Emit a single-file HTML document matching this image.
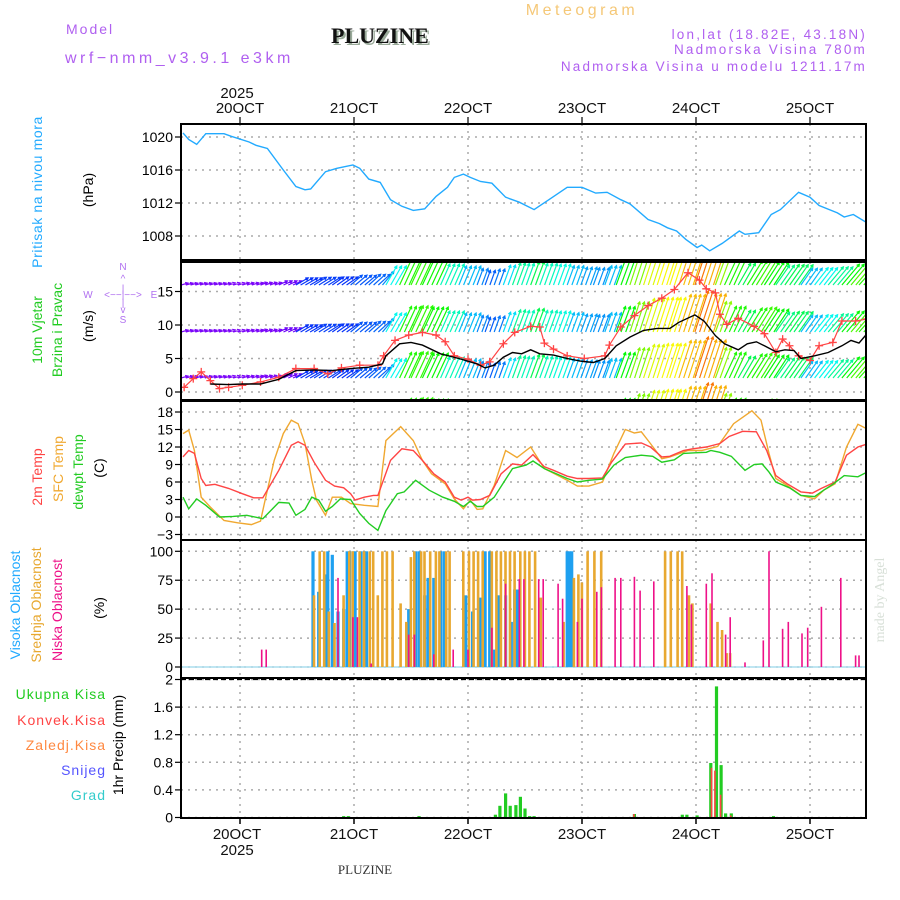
<!DOCTYPE html>
<html><head><meta charset="utf-8"><style>
html,body{margin:0;padding:0;background:#fff;}
svg{display:block;font-family:"Liberation Sans",sans-serif;}
</style></head><body>
<svg id="chart" width="900" height="900" viewBox="0 0 900 900" xmlns="http://www.w3.org/2000/svg">
<defs>
<clipPath id="c1"><rect x="181" y="124" width="685" height="136"/></clipPath>
<clipPath id="c2"><rect x="181" y="262" width="685" height="138"/></clipPath>
<clipPath id="c3"><rect x="181" y="401" width="685" height="139"/></clipPath>
<clipPath id="c4"><rect x="181" y="540" width="685" height="138"/></clipPath>
<clipPath id="c5"><rect x="181" y="678" width="685" height="140"/></clipPath>
</defs>
<g>
<text x="66" y="34" font-size="14" fill="#b060f0" letter-spacing="2">Model</text>
<text x="65" y="63" font-size="16" fill="#b060f0" letter-spacing="3.5">wrf−nmm_v3.9.1 e3km</text>
<text x="331" y="43" font-size="22" font-weight="bold" font-family="Liberation Serif,serif" fill="#9a9" transform="translate(2,2)">PLUZINE</text>
<text x="331" y="43" font-size="22" font-weight="bold" font-family="Liberation Serif,serif" fill="#111">PLUZINE</text>
<text x="582" y="15" font-size="16" fill="#f5c878" text-anchor="middle" letter-spacing="3.5">Meteogram</text>
<text x="867" y="39" font-size="13.5" fill="#b060f0" text-anchor="end" letter-spacing="2.2">lon,lat (18.82E, 43.18N)</text>
<text x="867" y="54" font-size="13.5" fill="#b060f0" text-anchor="end" letter-spacing="2.2">Nadmorska Visina 780m</text>
<text x="867" y="71" font-size="13.5" fill="#b060f0" text-anchor="end" letter-spacing="2.2">Nadmorska Visina u modelu 1211.17m</text>
<text x="237" y="98" font-size="15" fill="#111" text-anchor="middle">2025</text>
<text x="237" y="839" font-size="15" fill="#111" text-anchor="middle">20OCT</text>
<text x="237" y="855" font-size="15" fill="#111" text-anchor="middle">2025</text>
<text x="365" y="874" font-size="13" fill="#333" text-anchor="middle" font-family="Liberation Serif,serif">PLUZINE</text>
<text transform="translate(884,600) rotate(-90)" font-size="14" fill="#d8e0d8" text-anchor="middle" font-family="Liberation Serif,serif">made by Angel</text>
</g>
<g font-size="14">
<text transform="translate(42,192) rotate(-90)" text-anchor="middle" fill="#22aaff" letter-spacing="0.6">Pritisak na nivou mora</text>
<text transform="translate(93,190) rotate(-90)" text-anchor="middle" fill="#000">(hPa)</text>
<text transform="translate(42,330) rotate(-90)" text-anchor="middle" fill="#22cc22">10m Vjetar</text>
<text transform="translate(62,330) rotate(-90)" text-anchor="middle" fill="#22cc22">Brzina i Pravac</text>
<text transform="translate(93,326) rotate(-90)" text-anchor="middle" fill="#000">(m/s)</text>
<g fill="#b070f0" font-size="10" text-anchor="middle">
<text x="123" y="270">N</text><text x="123" y="282">^</text><text x="123" y="292">|</text>
<text x="88" y="298">W</text><text x="123" y="298">&lt;−−|−−&gt;</text><text x="154" y="298">E</text>
<text x="123" y="306">|</text><text x="123" y="313">v</text><text x="123" y="323">S</text>
</g>
<text transform="translate(42,477) rotate(-90)" text-anchor="middle" fill="#ff4444">2m Temp</text>
<text transform="translate(63,469) rotate(-90)" text-anchor="middle" fill="#f0a830">SFC Temp</text>
<text transform="translate(83,472) rotate(-90)" text-anchor="middle" fill="#22cc22">dewpt Temp</text>
<text transform="translate(104,468) rotate(-90)" text-anchor="middle" fill="#000">(C)</text>
<text transform="translate(20,605) rotate(-90)" text-anchor="middle" fill="#22aaff">Visoka Oblacnost</text>
<text transform="translate(41,605) rotate(-90)" text-anchor="middle" fill="#e8a830">Srednja Oblacnost</text>
<text transform="translate(62,610) rotate(-90)" text-anchor="middle" fill="#ee1188">Niska Oblacnost</text>
<text transform="translate(104,608) rotate(-90)" text-anchor="middle" fill="#000">(%)</text>
<g text-anchor="end" letter-spacing="1">
<text x="106" y="699" fill="#22cc22">Ukupna  Kisa</text>
<text x="106" y="725" fill="#ff4444">Konvek.Kisa</text>
<text x="106" y="750" fill="#ff8840">Zaledj.Kisa</text>
<text x="106" y="775" fill="#5555ff">Snijeg</text>
<text x="106" y="800" fill="#33cccc">Grad</text>
</g>
<text transform="translate(123,745) rotate(-90)" text-anchor="middle" fill="#000">1hr Precip (mm)</text>
</g>
<g id="plots"></g>
</svg>
<script>
// ---- data (days since 20 Oct 00:00) ----
const dayLabels=["20OCT","21OCT","22OCT","23OCT","24OCT","25OCT"];
const pTicks=[1020,1016,1012,1008];
const wTicks=[15,10,5,0];
const tTicks=[18,15,12,9,6,3,0,-3];
const cTicks=[100,75,50,25,0];
const rTicks=[2,1.6,1.2,0.8,0.4,0];

const pTimes=[-0.5,-0.45,-0.38,-0.3,-0.14,-0.08,0.08,0.14,0.24,0.38,0.49,0.57,0.62,0.75,0.85,0.99,1.05,1.13,1.23,1.32,1.42,1.52,1.62,1.72,1.82,1.88,1.96,2.02,2.11,2.21,2.33,2.45,2.58,2.71,2.87,3.0,3.12,3.22,3.34,3.42,3.58,3.68,3.75,3.83,3.91,4.01,4.05,4.12,4.23,4.38,4.43,4.55,4.66,4.74,4.9,5.0,5.08,5.24,5.3,5.38,5.5];
const pressure=[1020.5,1019.7,1019.1,1020.4,1020.4,1020.1,1019.4,1019.0,1018.6,1016.0,1014.0,1013.6,1013.7,1015.8,1016.2,1016.6,1016.2,1014.9,1014.5,1012.4,1011.6,1011.1,1011.3,1012.8,1013.9,1015.1,1015.5,1015.1,1014.6,1014.4,1012.7,1012.1,1011.2,1012.4,1013.9,1013.9,1013.2,1013.3,1012.4,1011.9,1010.0,1009.5,1009.0,1008.6,1007.6,1006.6,1006.9,1006.2,1007.1,1008.6,1008.2,1008.4,1010.6,1011.2,1013.3,1012.7,1011.7,1010.8,1010.3,1010.6,1009.6];

const wTimes=[-0.26,-0.1,0.02,0.18,0.34,0.49,0.65,0.81,0.97,1.13,1.25,1.28,1.4,1.5,1.6,1.76,1.92,2.08,2.15,2.23,2.31,2.39,2.47,2.55,2.63,2.75,2.87,2.99,3.1,3.2,3.3,3.42,3.54,3.66,3.77,3.85,3.99,4.07,4.17,4.25,4.37,4.45,4.53,4.6,4.7,4.78,4.86,4.92,5.04,5.16,5.28,5.36,5.43,5.5];
const windSpeed=[1.2,1.1,1.2,1.2,1.9,3.2,3.3,3.2,3.5,3.7,4.2,5.4,7.2,7.4,7.0,5.7,5.0,4.2,3.6,4.0,5.2,5.9,5.7,6.3,5.7,5.5,5.0,4.6,4.4,5.0,6.9,8.2,9.2,9.5,9.5,10.4,11.5,10.6,8.4,7.2,6.3,7.2,7.5,6.9,6.0,6.3,6.2,5.0,5.4,5.9,6.9,7.7,7.3,8.7];
const windDir=[75,72,72,70,65,60,58,55,50,48,40,30,25,25,25,24,22,20,20,20,20,20,20,20,20,20,20,20,20,20,20,18,18,18,18,18,18,18,20,25,30,32,32,33,35,35,35,35,38,40,40,40,42,45];
const gustTimes=[-0.49,-0.41,-0.34,-0.26,-0.18,-0.1,0.02,0.18,0.34,0.49,0.65,0.77,0.89,1.05,1.21,1.26,1.36,1.48,1.6,1.72,1.8,1.88,2.0,2.11,2.19,2.31,2.41,2.55,2.63,2.67,2.75,2.87,3.02,3.2,3.24,3.34,3.46,3.58,3.7,3.81,3.93,4.03,4.09,4.17,4.21,4.27,4.37,4.51,4.6,4.7,4.76,4.82,4.9,5.0,5.08,5.2,5.28,5.4,5.5];
const gust=[0.7,2.0,3.0,1.7,0.5,0.7,1.0,1.5,2.2,3.5,3.5,2.7,3.6,4.0,4.0,5.4,7.7,8.5,8.9,8.5,7.5,5.4,4.9,4.0,4.5,7.2,8.9,9.8,9.7,7.3,6.4,5.4,5.0,5.4,7.0,9.7,11.4,12.9,14.0,15.3,17.8,16.7,15.4,14.8,11.6,10.1,11.0,9.8,8.7,5.9,7.9,6.9,5.4,4.7,6.9,7.4,10.6,10.6,10.9];

const tTimes=[-0.5,-0.45,-0.4,-0.34,-0.3,-0.22,-0.1,0.02,0.12,0.2,0.34,0.45,0.51,0.57,0.65,0.75,0.83,0.91,0.97,1.01,1.09,1.17,1.21,1.32,1.42,1.52,1.6,1.7,1.8,1.88,1.94,2.0,2.04,2.11,2.19,2.29,2.39,2.47,2.57,2.67,2.75,2.87,2.96,3.06,3.18,3.26,3.38,3.52,3.6,3.7,3.77,3.89,3.97,4.09,4.21,4.29,4.41,4.53,4.62,4.7,4.8,4.92,5.02,5.1,5.22,5.32,5.42,5.5];
const temp2m=[10.3,11.4,10.9,6.6,5.4,5.6,4.9,4.0,3.3,3.3,8.0,12.3,12.9,12.3,9.4,6.3,5.3,5.0,4.0,2.9,3.4,3.7,3.7,9.7,11.7,11.4,9.7,7.4,6.0,3.4,2.9,3.4,2.9,3.0,3.7,7.4,9.1,8.9,10.7,8.6,8.0,7.0,6.6,6.6,6.7,9.4,12.5,12.7,12.0,10.3,10.4,11.4,11.7,12.0,12.6,13.8,14.7,14.6,11.4,7.1,5.7,4.3,4.1,4.9,6.0,10.6,12.0,12.5];
const sfcTimes=[-0.5,-0.45,-0.4,-0.34,-0.26,-0.14,-0.02,0.1,0.18,0.22,0.3,0.38,0.45,0.51,0.57,0.63,0.67,0.75,0.81,0.89,0.97,1.09,1.21,1.28,1.41,1.52,1.6,1.68,1.8,1.88,1.96,2.02,2.08,2.13,2.23,2.33,2.43,2.55,2.67,2.87,2.96,3.06,3.18,3.28,3.38,3.46,3.52,3.6,3.7,3.77,3.93,4.05,4.19,4.33,4.49,4.57,4.64,4.7,4.8,4.92,5.04,5.12,5.22,5.32,5.42,5.5];
const sfcTemp=[14.3,14.9,11.4,3.4,1.7,-0.6,-1.0,-1.3,-0.7,2.9,9.7,14.3,16.6,16.0,12.6,6.3,2.9,0.3,3.4,3.4,2.3,2.0,1.8,13.1,15.5,13.1,9.7,7.4,5.7,3.1,1.4,2.9,1.3,1.4,5.4,11.4,10.2,12.0,8.3,6.3,5.3,5.3,6.0,10.9,15.0,14.4,14.6,12.6,10.0,10.3,11.4,11.4,12.1,16.0,18.2,16.6,10.9,6.6,5.4,3.7,3.1,4.6,5.7,12.0,15.9,15.1];
const dewTimes=[-0.5,-0.45,-0.38,-0.3,-0.18,-0.06,0.06,0.2,0.34,0.43,0.49,0.57,0.63,0.69,0.75,0.81,0.88,0.97,1.05,1.13,1.21,1.28,1.38,1.44,1.54,1.66,1.78,1.88,1.96,2.02,2.08,2.13,2.23,2.39,2.51,2.57,2.67,2.87,2.96,3.06,3.18,3.28,3.38,3.52,3.62,3.7,3.81,3.89,3.99,4.09,4.13,4.21,4.31,4.43,4.51,4.58,4.64,4.7,4.82,4.92,5.04,5.12,5.2,5.3,5.42,5.5];
const dewTemp=[3.4,1.4,3.1,2.0,0.0,0.1,0.3,-0.3,2.5,2.4,0.3,1.3,3.4,2.9,1.0,1.8,3.1,3.0,0.6,-1.1,-2.3,1.1,4.0,4.3,6.3,4.6,3.4,2.7,1.8,2.7,1.8,1.8,3.4,8.3,8.9,9.6,8.3,6.6,6.0,6.3,6.5,8.9,10.2,10.6,10.4,9.4,9.8,10.9,11.0,11.1,11.4,11.1,10.4,8.0,9.0,9.1,7.7,6.0,5.0,3.7,3.5,4.6,5.6,7.1,6.9,7.7];

const highTimes=[0.64,0.69,0.75,0.77,0.81,0.86,0.91,0.94,0.96,0.99,1.01,1.06,1.09,1.11,1.15,1.48,1.54,1.57,1.62,1.65,1.70,1.76,1.79,1.98,2.04,2.11,2.15,2.19,2.23,2.25,2.27,2.33,2.38,2.41,2.43,2.87,2.89,2.91];
const highCloud=[100,65,80,100,97,48,50,100,100,100,100,100,100,100,3,50,100,100,62,77,77,100,100,62,48,60,100,100,15,15,62,62,39,67,67,100,100,100];
const midTimes=[0.64,0.69,0.73,0.77,0.82,0.90,0.95,0.98,1.04,1.08,1.13,1.16,1.20,1.24,1.28,1.33,1.40,1.45,1.49,1.52,1.58,1.61,1.66,1.71,1.74,1.80,1.83,1.95,2.00,2.04,2.08,2.12,2.20,2.24,2.28,2.32,2.36,2.40,2.45,2.49,2.53,2.58,2.63,2.83,2.92,2.96,2.99,3.04,3.10,3.16,3.72,3.77,3.83,3.87,3.93,3.96,4.12,4.18,4.22,4.26,4.29];
const midCloud=[62,100,100,48,38,62,100,100,100,100,100,100,62,100,100,100,55,39,95,100,100,100,100,100,100,100,100,100,100,100,100,100,100,100,100,100,100,100,100,100,100,100,60,39,77,80,73,100,100,100,100,100,100,100,62,55,55,39,32,12,12];
const lowTimes=[0.19,0.23,0.86,0.99,1.03,1.15,1.48,1.53,1.70,1.87,2.00,2.21,2.33,2.45,2.49,2.62,2.66,2.79,2.83,2.96,3.00,3.13,3.17,3.29,3.34,3.46,3.51,3.63,3.92,3.96,4.09,4.14,4.26,4.30,4.43,4.59,4.64,4.76,4.81,4.93,4.98,5.10,5.27,5.40,5.43];
const lowCloud=[15,15,77,43,43,3,28,28,11,15,15,34,72,76,76,76,76,72,59,39,59,65,69,77,77,78,66,74,70,54,72,81,28,43,4,23,100,33,39,29,34,52,77,10,10];

const rainTimes=[0.91,0.95,1.57,2.24,2.28,2.33,2.37,2.42,2.46,2.50,2.54,2.58,3.46,3.88,3.92,4.01,4.13,4.18,4.22,4.26,4.31,4.68];
const totalRain=[0.02,0.02,0.02,0.04,0.17,0.35,0.17,0.18,0.30,0.13,0.02,0.02,0.05,0.04,0.04,0.03,0.79,1.90,0.76,0.06,0.06,0.02];
const convTimes=[3.46,4.14,4.17,4.22,4.31];
const convRain=[0.05,0.72,0.68,0.33,0.03];

// ---- scales ----
const X0=181,X1=866;
const xs=d=>240+114*d;
const yP=p=>137+(1020-p)*33/4;
const yW=w=>392-w*6.7;
const yT=t=>517-t*5.833;
const yC=c=>667-c*1.157;
const yR=r=>817.5-r*69;
const NS='http://www.w3.org/2000/svg';
const plots=document.getElementById('plots');
function mk(tag,attrs,parent){const e=document.createElementNS(NS,tag);for(const k in attrs)e.setAttribute(k,attrs[k]);(parent||plots).appendChild(e);return e;}
function grp(clip){const g=mk('g',clip?{'clip-path':'url(#'+clip+')'}:{});return g;}

const panels=[[124,260,'c1'],[262,400,'c2'],[401,540,'c3'],[540,678,'c4'],[678,818,'c5']];
const gridG=grp();


panels.forEach(p=>{dayLabels.forEach((l,i)=>{mk('line',{x1:xs(i),x2:xs(i),y1:p[0],y2:p[1],stroke:'#aaa','stroke-width':1.5,'stroke-dasharray':'2,5'},gridG);});});
function hgrid(ticks,f,fmt,tickName){ticks.forEach(t=>{const y=f(t);
 mk('line',{x1:X0,x2:X1,y1:y,y2:y,stroke:'#aaa','stroke-width':1.5,'stroke-dasharray':'2,5'},gridG);
 mk('line',{x1:X0-6,x2:X0,y1:y,y2:y,stroke:'#000','stroke-width':1.2},gridG);
 const tx=mk('text',{x:X0-8,y:y+5,'font-size':14,'text-anchor':'end',fill:'#000'});
 
 
 tx.textContent=fmt?fmt(t):t;});}
hgrid(pTicks,yP,null,'pressure-tick');
hgrid(wTicks,yW,null,'wind-tick');
hgrid(tTicks,yT,t=>t<0?'−'+(-t):t,'temp-tick');
hgrid(cTicks,yC,null,'cloud-tick');
hgrid(rTicks,yR,null,'precip-tick');
dayLabels.forEach((l,i)=>{
 const t=mk('text',{x:xs(i),y:113,'font-size':15,'text-anchor':'middle',fill:'#111'});
 
 
 t.textContent=l;
 mk('line',{x1:xs(i),x2:xs(i),y1:117,y2:124,stroke:'#000','stroke-width':1.2});
 mk('line',{x1:xs(i),x2:xs(i),y1:818,y2:824,stroke:'#000','stroke-width':1.5});
 if(i>0){const b=mk('text',{x:xs(i),y:839,'font-size':15,'text-anchor':'middle',fill:'#111'});
 
 
 b.textContent=l;}
});
function line(times,vals,f,color,g,w){const d=times.map((t,i)=>(i?'L':'M')+xs(t).toFixed(1)+','+f(vals[i]).toFixed(1)).join('');return mk('path',{d:d,fill:'none',stroke:color,'stroke-width':w||1.3},g);}

// pressure
const g1=grp('c1');
const pl=line(pTimes,pressure,yP,'#22aaff',g1,1.4);



// wind: each reading drawn as a run of hourly-spaced arrows until the next reading
const g2=grp('c2');
function hue(s){const st=[[0,275],[2,265],[3.5,220],[5,195],[6.5,130],[8,95],[9.5,60],[11,35],[13,5],[20,0]];for(let i=1;i<st.length;i++){if(s<=st[i][0]){const a=st[i-1],b=st[i];return a[1]+(b[1]-a[1])*(s-a[0])/(b[0]-a[0]);}}return 0;}
[285,332,378,424].forEach(base=>{
 wTimes.forEach((t,i)=>{const s=windSpeed[i],a=windDir[i]*Math.PI/180,L=3.5*s+3;
  const xa=i===0?X0:xs(t), xb=i<wTimes.length-1?xs(wTimes[i+1]):X1;
  const dx=Math.sin(a)*L,dy=-Math.cos(a)*L;const col='hsl('+hue(s)+',95%,50%)';
  const h=3;
  const head='m'+(-Math.sin(a+0.5)*h).toFixed(1)+','+(Math.cos(a+0.5)*h).toFixed(1)+'l'+(Math.sin(a+0.5)*h).toFixed(1)+','+(-Math.cos(a+0.5)*h).toFixed(1)+'l'+(-Math.sin(a-0.5)*h).toFixed(1)+','+(Math.cos(a-0.5)*h).toFixed(1);
  let d='';
  for(let x=xa;x<xb-0.5;x+=4.75){d+='M'+x.toFixed(1)+','+base+'l'+dx.toFixed(1)+','+dy.toFixed(1)+head;}
  const ar=mk('path',{d:d,stroke:col,'stroke-width':1.2,fill:'none'},g2);
  
  
 });
});
const gl=line(gustTimes,gust,yW,'#ff4444',g2,1.2);


gustTimes.forEach((t,i)=>{const x=xs(t),y=yW(gust[i]);const m=mk('path',{d:'M'+(x-4)+','+y+'h8M'+x+','+(y-4)+'v8',stroke:'#ff4444','stroke-width':1.3},g2);
 
 });
const wl=line(wTimes.filter(t=>t>=-0.3),windSpeed.slice(windSpeed.length-wTimes.filter(t=>t>=-0.3).length),yW,'#000',g2,1.4);



// temp
const g3=grp('c3');
const sl=line(sfcTimes,sfcTemp,yT,'#f0a830',g3,1.4);


const tl=line(tTimes,temp2m,yT,'#ff4444',g3,1.4);


const dl=line(dewTimes,dewTemp,yT,'#22cc22',g3,1.4);



// clouds
const g4=grp('c4');
mk('line',{x1:X0,x2:X1,y1:yC(0),y2:yC(0),stroke:'#aaddee','stroke-width':1.5},g4);
function bars(times,vals,f,col,w,off,g,name){times.forEach((t,i)=>{const y=f(vals[i]);const b=mk('rect',{x:(xs(t)+off-w/2).toFixed(1),y:y.toFixed(1),width:w,height:(f(0)-y).toFixed(1),fill:col},g);
 
 });}
bars(highTimes,highCloud,yC,'#1ea0f0',3.2,0,g4,'high-cloud-bar');
bars(midTimes,midCloud,yC,'#e8a830',2.6,1,g4,'mid-cloud-bar');
bars(lowTimes,lowCloud,yC,'#ee1188',1.6,0,g4,'low-cloud-bar');

// precip
const g5=grp('c5');
mk('line',{x1:X0,x2:X1,y1:679.5,y2:679.5,stroke:'#000','stroke-width':1.2,'stroke-dasharray':'5,3'},g5);
bars(rainTimes,totalRain,yR,'#22cc22',3.2,0,g5,'total-rain-bar');
bars(convTimes,convRain,yR,'#ff4444',1.6,-0.5,g5,'convective-rain-bar');

// borders
panels.forEach(p=>{const r=mk('rect',{x:X0,y:p[0],width:X1-X0,height:p[1]-p[0],fill:'none',stroke:'#000','stroke-width':2});
 
 });
</script>
</body></html>
